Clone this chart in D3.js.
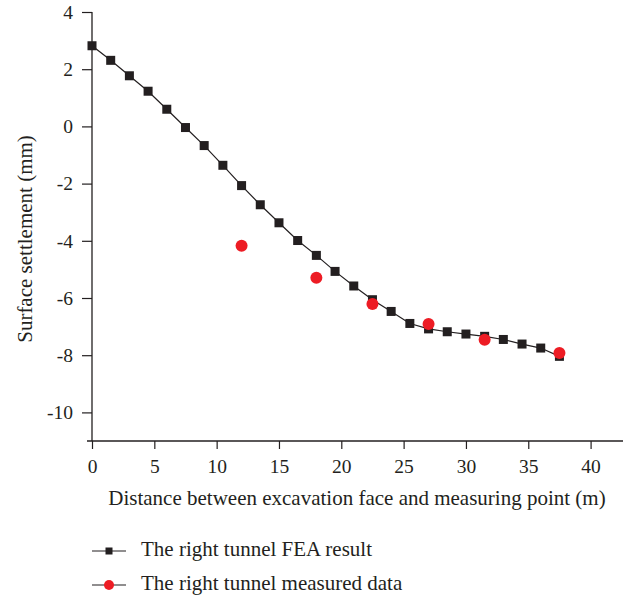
<!DOCTYPE html>
<html>
<head>
<meta charset="utf-8">
<script src="https://cdn.jsdelivr.net/npm/d3@7"></script>
<style>
  html, body { margin: 0; padding: 0; background: #fff; }
  svg { display: block; }
  text { font-family: "Liberation Serif", "DejaVu Serif", serif; fill: #231f20; }
</style>
</head>
<body>
<svg id="chart" width="633" height="601"></svg>
<script>
// Distance from excavation face (m) and surface settlement (mm)
const feaDistance = [0, 1.5, 3, 4.5, 6, 7.5, 9, 10.5, 12, 13.5, 15, 16.5, 18, 19.5,
  21, 22.5, 24, 25.5, 27, 28.5, 30, 31.5, 33, 34.5, 36, 37.5];
const feaSettlement = [2.82, 2.31, 1.77, 1.23, 0.60, -0.04, -0.67, -1.36, -2.07, -2.74,
  -3.37, -3.99, -4.51, -5.07, -5.58, -6.06, -6.47, -6.89, -7.08, -7.18, -7.26, -7.34,
  -7.45, -7.61, -7.75, -8.04];
const measuredDistance = [12, 18, 22.5, 27, 31.5, 37.5];
const measuredSettlement = [-4.17, -5.29, -6.21, -6.91, -7.46, -7.92];

const xTicks = [0, 5, 10, 15, 20, 25, 30, 35, 40];
const xMinorTicks = [2.5, 7.5, 12.5, 17.5, 22.5, 27.5, 32.5, 37.5, 42.5];
const yTicks = [4, 2, 0, -2, -4, -6, -8, -10];
const yMinorTicks = [3, 1, -1, -3, -5, -7, -9];

const seriesNames = ["The right tunnel FEA result", "The right tunnel measured data"];
const xTitle = "Distance between excavation face and measuring point (m)";
const yTitle = "Surface settlement (mm)";

const ink = "#231f20";
const red = "#ed1c24";
const plain = d => String(d); // hyphen-minus for negative labels

const svg = d3.select("#chart");

const x = d3.scaleLinear().domain([0, 42.6]).range([92, 623]);
const y = d3.scaleLinear().domain([-11, 4]).range([441, 12]);

// Axes
const gx = svg.append("g").attr("transform", `translate(0,${y(-11)})`);
gx.call(d3.axisBottom(x).tickValues(xMinorTicks).tickSize(4).tickFormat(""))
  .call(g => g.select(".domain").remove());
gx.call(d3.axisBottom(x).tickValues(xTicks).tickSize(8).tickPadding(10).tickFormat(plain))
  .call(g => g.select(".domain").remove());
gx.append("line").attr("x1", x(0) - 5).attr("x2", x(42.6)).attr("stroke", ink).attr("stroke-width", 1.3);

const gy = svg.append("g").attr("transform", `translate(${x(0)},0)`);
gy.call(d3.axisLeft(y).tickValues(yMinorTicks).tickSize(5).tickFormat(""))
  .call(g => g.select(".domain").remove());
gy.call(d3.axisLeft(y).tickValues(yTicks).tickSize(10).tickPadding(9).tickFormat(plain))
  .call(g => g.select(".domain").remove());
gy.append("line").attr("y1", y(4)).attr("y2", y(-11)).attr("stroke", ink).attr("stroke-width", 1.3);

svg.selectAll(".tick line").attr("stroke", ink).attr("stroke-width", 1.2);
svg.selectAll(".tick text").attr("font-size", 19.5).attr("fill", ink)
  .attr("font-family", "Liberation Serif, serif");

// Axis titles
svg.append("text")
  .attr("x", 357)
  .attr("y", 505)
  .attr("text-anchor", "middle")
  .attr("font-size", 21)
  .text(xTitle);

svg.append("text")
  .attr("transform", "translate(32,239) rotate(-90)")
  .attr("text-anchor", "middle")
  .attr("font-size", 21)
  .text(yTitle);

// FEA series: line with square markers
const pts = feaDistance.map((d, i) => [d, feaSettlement[i]]);
svg.append("path")
  .datum(pts)
  .attr("fill", "none")
  .attr("stroke", ink)
  .attr("stroke-width", 1.2)
  .attr("d", d3.line().x(d => x(d[0])).y(d => y(d[1])));

const sq = 9;
svg.append("g").selectAll("rect")
  .data(pts)
  .join("rect")
  .attr("x", d => x(d[0]) - sq / 2)
  .attr("y", d => y(d[1]) - sq / 2)
  .attr("width", sq)
  .attr("height", sq)
  .attr("fill", ink);

// Measured series: red circles
const mpts = measuredDistance.map((d, i) => [d, measuredSettlement[i]]);
svg.append("g").selectAll("circle")
  .data(mpts)
  .join("circle")
  .attr("cx", d => x(d[0]))
  .attr("cy", d => y(d[1]))
  .attr("r", 6)
  .attr("fill", red);

// Legend
const legend = svg.append("g");
const rows = [
  { name: seriesNames[0], color: ink, marker: "square", y: 551 },
  { name: seriesNames[1], color: red, marker: "circle", y: 585 }
];
rows.forEach(r => {
  const g = legend.append("g").attr("transform", `translate(0,${r.y})`);
  g.append("line").attr("x1", 92).attr("x2", 126).attr("stroke", ink).attr("stroke-width", 1.2);
  if (r.marker === "square") {
    g.append("rect").attr("x", 109 - 3.5).attr("y", -3.5).attr("width", 7).attr("height", 7).attr("fill", r.color);
  } else {
    g.append("circle").attr("cx", 109).attr("cy", 0).attr("r", 5).attr("fill", r.color);
  }
  g.append("text").attr("x", 141).attr("y", 4.5).attr("font-size", 21).text(r.name);
});
</script>
</body>
</html>
